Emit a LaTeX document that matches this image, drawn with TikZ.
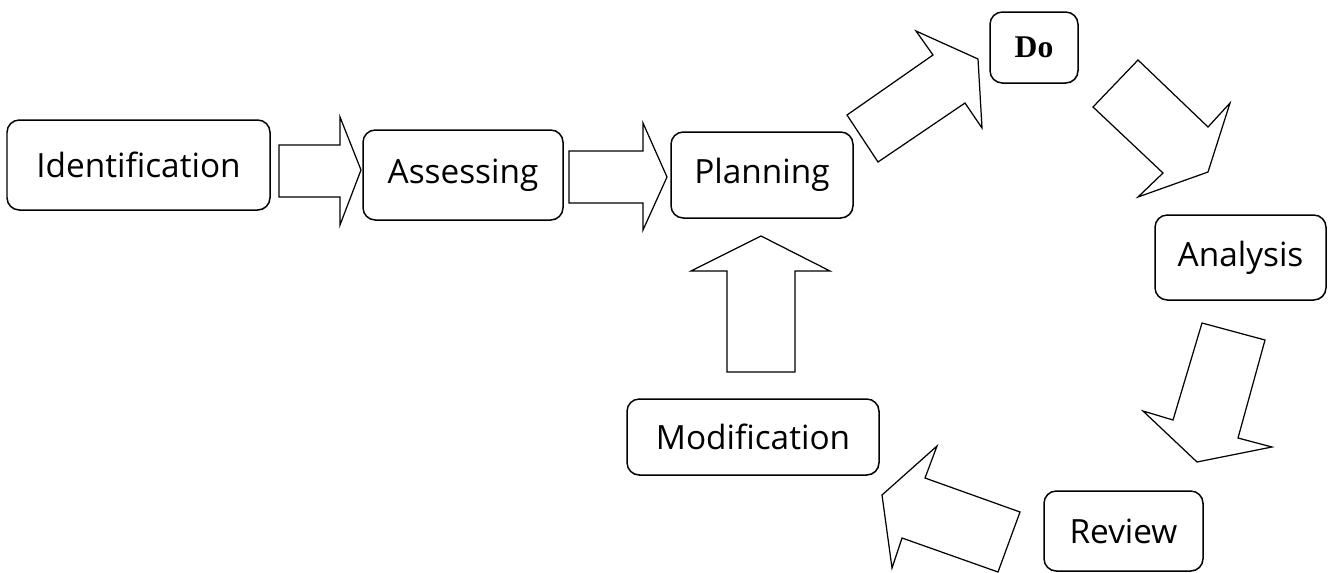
\documentclass[tikz,border=0pt]{standalone}
\usepackage{fontspec}
\setmainfont{Open Sans}
\newfontfamily\dofont{Liberation Serif}
\begin{document}
\begin{tikzpicture}[x=0.02cm,y=-0.02cm,
	stage/.style={draw=black,line width=0.85pt,rounded corners=7pt,inner sep=0pt,font=\fontsize{19}{21}\selectfont},
	blockarrow/.style={draw=black,line width=0.7pt,fill=white,line join=miter}]
		\useasboundingbox (0,0) rectangle (1331,572);
		\node[stage,minimum width=263*0.02cm,minimum height=90*0.02cm] (ident) at (138.5,165) {Identification};
		\node[stage,minimum width=200*0.02cm,minimum height=90*0.02cm] (assess) at (463,175) {Assessing};
		\node[stage,minimum width=182*0.02cm,minimum height=86*0.02cm] (plan) at (762,175) {Planning};
		\node[stage,minimum width=88*0.02cm,minimum height=71*0.02cm,font=\dofont\bfseries\fontsize{18}{20}\selectfont] (do) at (1034,47.5) {Do};
		\node[stage,minimum width=171*0.02cm,minimum height=85*0.02cm] (analysis) at (1240.5,257.5) {Analysis};
		\node[stage,minimum width=159*0.02cm,minimum height=80*0.02cm] (review) at (1123.5,531) {Review};
		\node[stage,minimum width=252*0.02cm,minimum height=76*0.02cm] (modif) at (753,437) {Modification};
		% block arrows between the stages
		\draw[blockarrow] (279,145) -- (340,145) -- (340,117) -- (361,170) -- (340,225) -- (340,197) -- (279,197) -- cycle;
		\draw[blockarrow] (569,151) -- (643,151) -- (643,123) -- (667,177) -- (643,230) -- (643,203) -- (569,203) -- cycle;
		\draw[blockarrow] (847,115) -- (933,55) -- (916,31) -- (978,59) -- (982,128) -- (965,103) -- (878,162) -- cycle;
		\draw[blockarrow] (1138,60) -- (1208,127) -- (1230,103) -- (1208,172) -- (1138,197) -- (1163,173) -- (1093,107) -- cycle;
		\draw[blockarrow] (1202,323) -- (1265,340) -- (1238,438) -- (1272,447) -- (1197,462) -- (1143,411) -- (1173,420) -- cycle;
		\draw[blockarrow] (882,495) -- (937,446) -- (925,478) -- (1020,512) -- (998,572) -- (902,538) -- (892,568) -- cycle;
		\draw[blockarrow] (727,372) -- (727,271) -- (691,271) -- (761,236) -- (830,271) -- (795,271) -- (795,372) -- cycle;
	\end{tikzpicture}
\end{document}
